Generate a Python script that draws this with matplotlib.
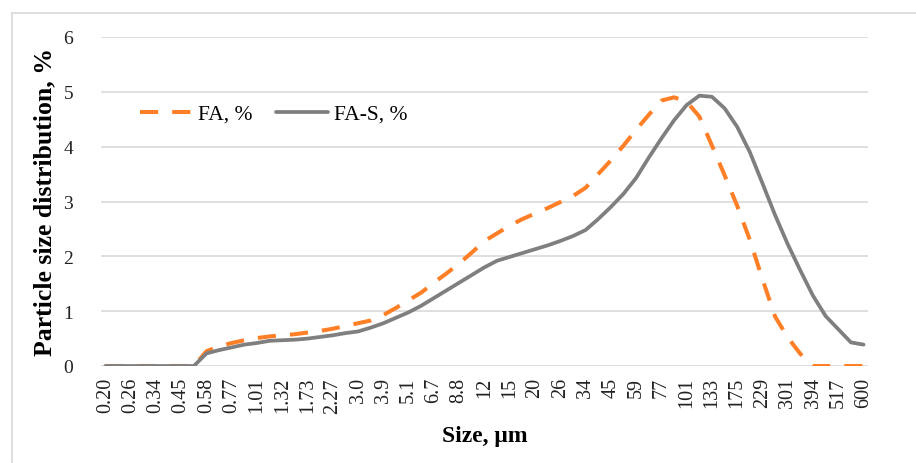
import numpy as np
import matplotlib
matplotlib.use("Agg")
import matplotlib.pyplot as plt
from matplotlib.lines import Line2D

# particle size classes (um); every second one is labelled on the axis
sizes = ["0.20", "0.23", "0.26", "0.30", "0.34", "0.39", "0.45", "0.51", "0.58", "0.67",
         "0.77", "0.88", "1.01", "1.15", "1.32", "1.51", "1.73", "1.98", "2.27", "2.6",
         "3.0", "3.4", "3.9", "4.5", "5.1", "5.9", "6.7", "7.7", "8.8", "10",
         "12", "13", "15", "17", "20", "23", "26", "30", "34", "39",
         "45", "51", "59", "67", "77", "88", "101", "116", "133", "153",
         "175", "200", "229", "262", "301", "344", "394", "451", "517", "557", "600"]

fa = [0, 0, 0, 0, 0, 0, 0, 0, 0.27, 0.36,
      0.42, 0.47, 0.51, 0.54, 0.56, 0.58, 0.61, 0.64, 0.68, 0.73,
      0.78, 0.83, 0.93, 1.06, 1.20, 1.34, 1.52, 1.69, 1.87, 2.07,
      2.28, 2.42, 2.56, 2.68, 2.78, 2.88, 2.99, 3.10, 3.25, 3.50,
      3.75, 4.02, 4.31, 4.58, 4.84, 4.90, 4.82, 4.55, 4.02, 3.48,
      2.92, 2.30, 1.58, 0.90, 0.52, 0.22, 0, 0, 0, 0, 0]

fa_s = [0, 0, 0, 0, 0, 0, 0, 0, 0.23, 0.29,
        0.34, 0.39, 0.42, 0.46, 0.47, 0.48, 0.50, 0.53, 0.56, 0.60,
        0.63, 0.70, 0.78, 0.88, 0.98, 1.10, 1.24, 1.38, 1.52, 1.66,
        1.80, 1.92, 1.99, 2.06, 2.13, 2.20, 2.28, 2.37, 2.48, 2.68,
        2.90, 3.14, 3.43, 3.80, 4.15, 4.48, 4.76, 4.93, 4.91, 4.70,
        4.36, 3.90, 3.33, 2.75, 2.22, 1.74, 1.28, 0.91, 0.67, 0.43, 0.39]

orange = "#FF7F27"
grey = "#7F7F7F"

plt.rcParams["font.family"] = ["Liberation Serif", "DejaVu Serif"]

fig = plt.figure(figsize=(9.16, 4.64), dpi=100)
ax = fig.add_axes([101 / 916, 97 / 464, 767 / 916, 329 / 464])

ax.plot(sizes, fa, color=orange, lw=2.9, linestyle=(0, (4.5, 3.5)), label="FA, %")
ax.plot(sizes, fa_s, color=grey, lw=2.7, label="FA-S, %", solid_capstyle="round")

ax.set_ylim(0, 6)
ax.set_xlim(-0.35, len(sizes) - 1 + 0.35)
ax.set_yticks(range(7))
ax.set_xticks(range(0, len(sizes), 2))
ax.set_xticklabels(sizes[::2], rotation=90)
ax.tick_params(axis="both", length=0, colors="#222222")
ax.tick_params(axis="y", pad=20, labelsize=14)
ax.tick_params(axis="x", pad=8, labelsize=14.5)

ax.grid(axis="y", color="#D9D9D9", lw=1.2)
ax.set_axisbelow(True)
for s in ax.spines.values():
    s.set_visible(False)

ax.set_ylabel("Particle size distribution, %", fontsize=18.5, fontweight="bold", labelpad=5)
ax.set_xlabel("Size, \u03bcm", fontsize=17, fontweight="bold", labelpad=9)

leg = ax.legend(loc="center left", bbox_to_anchor=(121 / 916, 1 - 115 / 464),
                bbox_transform=fig.transFigure, ncol=2, frameon=False,
                fontsize=15.5, handlelength=2.4, handletextpad=0.28, columnspacing=1.1)

# outer chart frame (top and left edges visible)
fig.add_artist(Line2D([12 / 916, 1], [1 - 14 / 464, 1 - 14 / 464], color="#D9D9D9", lw=1.2))
fig.add_artist(Line2D([12 / 916, 12 / 916], [0, 1 - 14 / 464], color="#D9D9D9", lw=1.2))

fig.savefig("out.png", dpi=100)
